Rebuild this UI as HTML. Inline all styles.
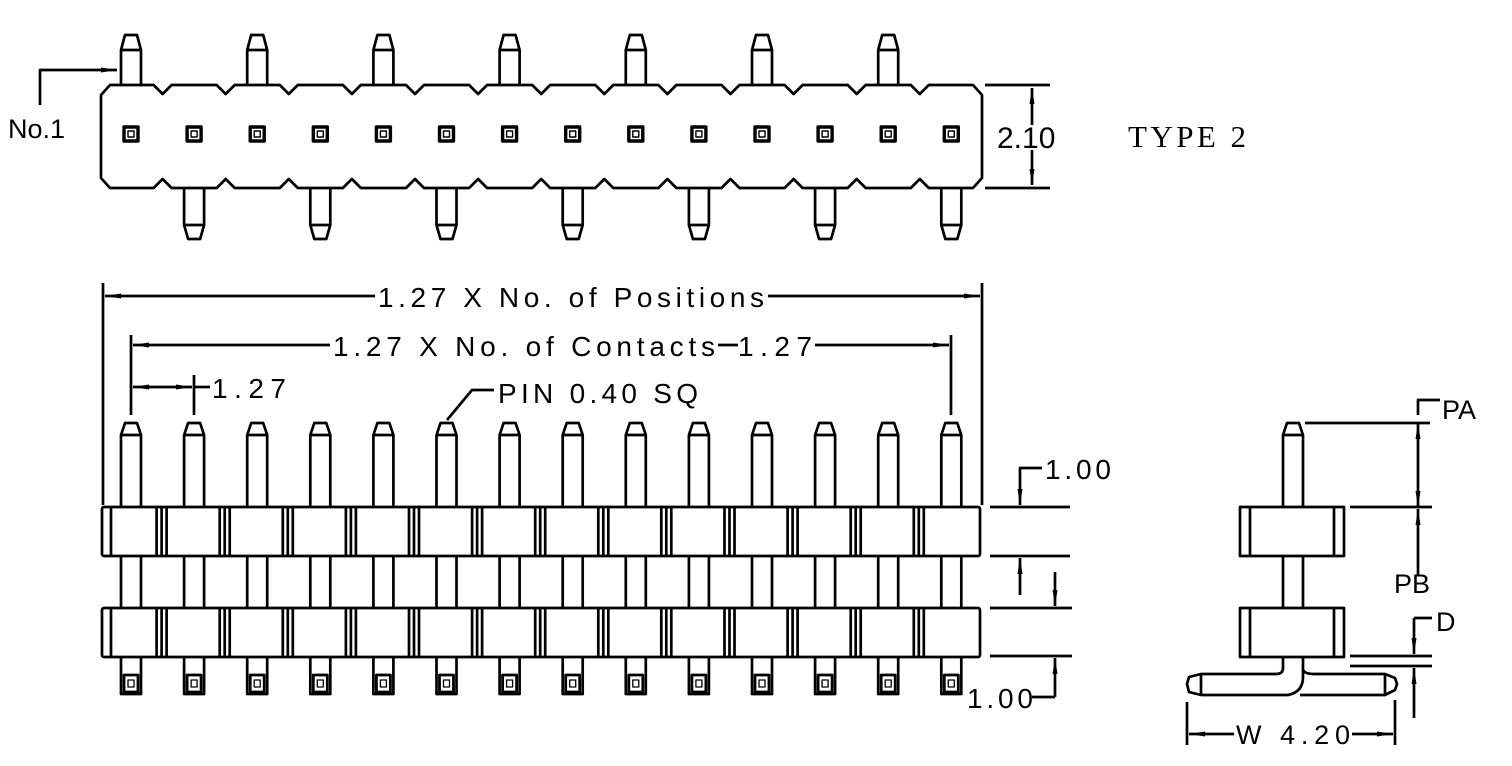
<!DOCTYPE html>
<html><head><meta charset="utf-8"><style>
html,body{margin:0;padding:0;background:#fff;}
svg{display:block;}
text{font-family:"Liberation Sans",sans-serif;fill:#000;}
</style></head><body>
<svg id="s" width="1512" height="766" viewBox="0 0 1512 766" xmlns="http://www.w3.org/2000/svg" fill="none" stroke="#000" stroke-width="2.7" stroke-linejoin="round">
<defs>
<marker id="a" viewBox="0 0 16 8" refX="16" refY="4" markerWidth="16" markerHeight="8" orient="auto-start-reverse" markerUnits="userSpaceOnUse"><path d="M0,1.5 L16,4 L0,6.5 Z" fill="#000" stroke="none"/></marker>
</defs>
<path id="hous" d="M110,85 L153.6,85 L162.6,94 L171.6,85 L216.7,85 L225.7,94 L234.7,85 L279.8,85 L288.8,94 L297.8,85 L342.9,85 L351.9,94 L360.9,85 L406,85 L415,94 L424,85 L469.1,85 L478.1,94 L487.1,85 L532.2,85 L541.2,94 L550.2,85 L595.3,85 L604.3,94 L613.3,85 L658.4,85 L667.4,94 L676.4,85 L721.5,85 L730.5,94 L739.5,85 L784.6,85 L793.6,94 L802.6,85 L847.7,85 L856.7,94 L865.7,85 L910.8,85 L919.8,94 L928.8,85 L973,85 L982,95 L982,178 L973,188 L928.8,188 L919.8,179 L910.8,188 L865.7,188 L856.7,179 L847.7,188 L802.6,188 L793.6,179 L784.6,188 L739.5,188 L730.5,179 L721.5,188 L676.4,188 L667.4,179 L658.4,188 L613.3,188 L604.3,179 L595.3,188 L550.2,188 L541.2,179 L532.2,188 L487.1,188 L478.1,179 L469.1,188 L424,188 L415,179 L406,188 L360.9,188 L351.9,179 L342.9,188 L297.8,188 L288.8,179 L279.8,188 L234.7,188 L225.7,179 L216.7,188 L171.6,188 L162.6,179 L153.6,188 L110,188 L101,178 L101,95 Z"/>
<g id="g"></g>
<g stroke="none">
<text x="8" y="138" font-size="27">No.1</text>
<text x="997" y="148" font-size="30">2.10</text>
<text x="1128" y="147" font-size="31" style="font-family:'Liberation Serif',serif" textLength="118">TYPE 2</text>
<text x="378" y="307" font-size="28" textLength="386">1.27 X No. of Positions</text>
<text x="333" y="356" font-size="28" textLength="382">1.27 X No. of Contacts</text>
<text x="738" y="356" font-size="28" textLength="74">1.27</text>
<text x="212" y="398" font-size="28" textLength="74">1.27</text>
<text x="498" y="403" font-size="28" textLength="200">PIN 0.40 SQ</text>
<text x="1045" y="479" font-size="28" textLength="66">1.00</text>
<text x="967" y="708" font-size="28" textLength="66">1.00</text>
<text x="1442" y="419" font-size="27">PA</text>
<text x="1394" y="593" font-size="27">PB</text>
<text x="1436" y="631" font-size="27">D</text>
<text x="1236" y="744" font-size="27">W</text>
<text x="1280" y="744" font-size="27" textLength="70">4.20</text>
</g>
</svg>
<script>
var g=document.getElementById('g'),h='';
function f(v){return (Math.round(v*10)/10).toString();}
function L(x1,y1,x2,y2,ex){h+='<line x1="'+f(x1)+'" y1="'+f(y1)+'" x2="'+f(x2)+'" y2="'+f(y2)+'"'+(ex||'')+'/>';}
function P(d,ex){h+='<path d="'+d+'"'+(ex||'')+'/>';}
var A=' marker-end="url(#a)"',B=' marker-start="url(#a)" marker-end="url(#a)"';
var xs=[];for(var i=0;i<14;i++)xs.push(Math.round((131+i*63.1)*10)/10);
for(var i=0;i<14;i++){var x=xs[i];
 h+='<rect x="'+f(x-7)+'" y="127" width="14" height="14" stroke-width="3.4"/><rect x="'+f(x-3)+'" y="131" width="6" height="6" stroke-width="1.4"/>';
 if(i%2==0){P('M'+f(x-10)+',85 L'+f(x-10)+',50 L'+f(x-6)+',35 L'+f(x+6)+',35 L'+f(x+10)+',50 L'+f(x+10)+',85');L(x-10,50,x+10,50);}
 else{P('M'+f(x-10)+',188 L'+f(x-10)+',225 L'+f(x-6)+',239 L'+f(x+6)+',239 L'+f(x+10)+',225 L'+f(x+10)+',188');L(x-10,225,x+10,225);}
}
P('M40,105 L40,70 L117,70',A);
L(985,85,1050,85);L(985,188,1050,188);L(1032,125,1032,88,A);L(1032,150,1032,185,A);
for(var i=0;i<14;i++){var x=xs[i];
 P('M'+f(x-10)+',507 L'+f(x-10)+',435 L'+f(x-6)+',423 L'+f(x+6)+',423 L'+f(x+10)+',435 L'+f(x+10)+',507');L(x-10,435,x+10,435);
 L(x-10,556,x-10,608);L(x+10,556,x+10,608);
 P('M'+f(x-10)+',656 L'+f(x-10)+',694 L'+f(x+10)+',694 L'+f(x+10)+',656');
 h+='<rect x="'+f(x-7)+'" y="675" width="14" height="17" stroke-width="2.8"/><rect x="'+f(x-3)+'" y="680" width="6" height="7" stroke-width="1.3"/>';
}
[507,608].forEach(function(y){var y2=y+49;
 h+='<rect x="102" y="'+y+'" width="878" height="49" rx="2"/>';
 L(111,y,111,y2);
 for(var i=0;i<13;i++){var m=(xs[i]+xs[i+1])/2;L(m-6,y,m-6,y2);L(m-1,y,m-1,y2);L(m+4,y,m+4,y2);}
});
L(103,283,103,505);L(982,283,982,505);
L(375,296,105,296,A);L(768,296,980,296,A);
L(131,335,131,415);L(951,335,951,415);
L(330,345,133,345,A);L(718,345,738,345);L(815,345,949,345,A);
L(194,375,194,415);L(133,387,192,387,B);L(194,387,210,387);
P('M447,420 L472,390 L494,390');
L(990,507,1070,507);L(990,556,1070,556);
P('M1042,468 L1020,468 L1020,505',A);L(1020,595,1020,558,A);
L(990,608,1072,608);L(990,656,1072,656);
L(1055,572,1055,606,A);L(1055,697,1032,697);L(1055,697,1055,658,A);
var sx=1293;
P('M'+(sx-10)+',507 L'+(sx-10)+',435 L'+(sx-6)+',423 L'+(sx+6)+',423 L'+(sx+10)+',435 L'+(sx+10)+',507');L(sx-10,435,sx+10,435);
L(sx-10,556,sx-10,608);L(sx+10,556,sx+10,608);
[507,608].forEach(function(y){h+='<rect x="1240" y="'+y+'" width="104" height="49"/>';L(1250,y,1250,y+49);L(1334,y,1334,y+49);});
P('M1283,657 L1283,668 Q1283,674 1276,674 L1201,674 L1189,677 L1187,684 L1189,692 L1201,695 L1288,695 Q1303,692 1303,677 L1303,657');
P('M1303,670 Q1305,674 1314,674 L1385,674 L1395,678 L1397,684 L1395,690 L1385,695 L1300,695');
L(1201,674,1201,695);L(1385,674,1385,695);
L(1305,423,1430,423);L(1350,507,1432,507);L(1350,656,1432,656);L(1350,666,1432,666);
P('M1418,415 L1418,400 L1440,400');L(1418,423,1418,507,B);
L(1418,575,1418,509,A);L(1414,618,1432,618);L(1414,618,1414,654,A);
L(1414,700,1414,668,A);L(1414,700,1414,718);
L(1187,702,1187,745);L(1395,700,1395,745);
L(1234,734,1189,734,A);L(1352,734,1393,734,A);
g.innerHTML=h;
</script>
</body></html>
